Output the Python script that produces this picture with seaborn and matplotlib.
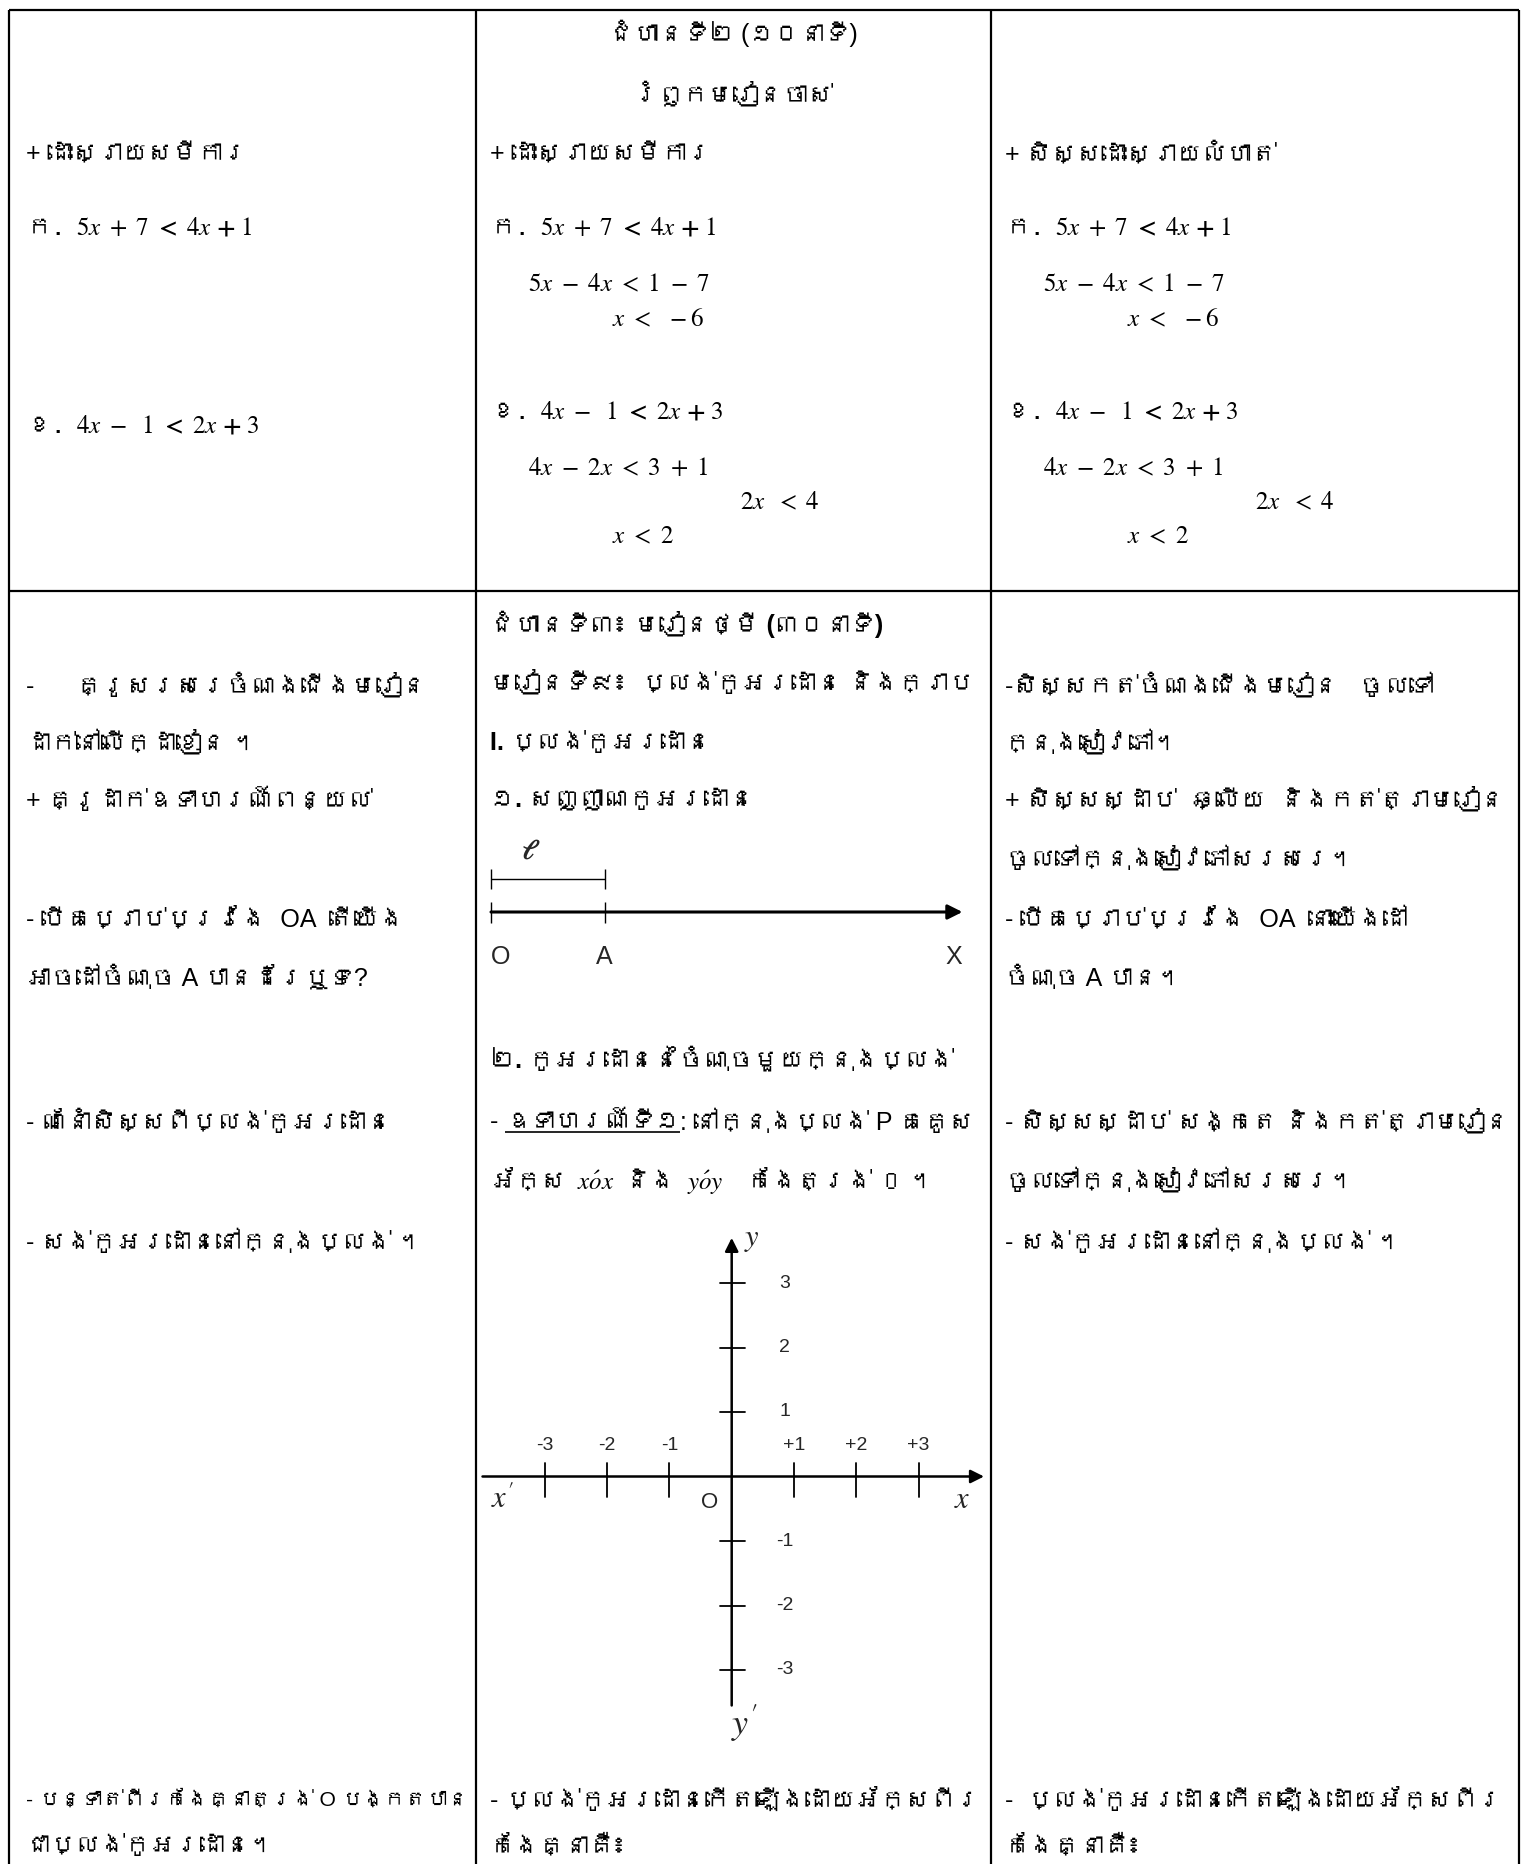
import numpy as np
import pandas as pd
import seaborn as sns
import matplotlib.pyplot as plt
from matplotlib import font_manager
from matplotlib.ft2font import FT2Font

W, H = 1527, 1864

# number line: O, A and the end X (in units of OA)
line_names = ["O", "A", "X"]
line_pos = [0, 1, 4.15]

# coordinate axes
x_ticks = [-3, -2, -1, 1, 2, 3]
x_tick_labels = ["-3", "-2", "-1", "+1", "+2", "+3"]
y_ticks = [3, 2, 1, -1, -2, -3]
y_tick_labels = ["3", "2", "1", "-1", "-2", "-3"]
x_axis_span = [-4.0, 4.05]
y_axis_span = [-3.55, 3.7]

sns.set_theme(style="white")

# look for any installed font that has Khmer glyphs
khmer = []
for f in font_manager.fontManager.ttflist:
    try:
        if FT2Font(f.fname).get_char_index(0x1780) and f.name not in khmer:
            khmer.append(f.name)
    except Exception:
        pass
plt.rcParams["font.family"] = ["Liberation Sans"] + khmer + ["DejaVu Sans"]
plt.rcParams["mathtext.fontset"] = "stix"
# mathtext strings only use the first family, so Khmer has to come first there
MIXED = khmer + ["Liberation Sans", "DejaVu Sans"]

FS = 18
fig = plt.figure(figsize=(W / 100, H / 100), dpi=100)
ax = fig.add_axes([0, 0, 1, 1])
ax.set_xlim(0, W)
ax.set_ylim(H, 0)
ax.axis("off")
r = fig.canvas.get_renderer()
inv = ax.transData.inverted()

# table grid
cols = [9, 476, 991, 1519]
ax.vlines(cols, 10, H, color="black", lw=1.6)
ax.hlines([10, 591], cols[0], cols[-1], color="black", lw=1.6)


def span(t):
    bb = t.get_window_extent(r)
    (xa, ya), (xb, yb) = inv.transform([[bb.x0, bb.y0], [bb.x1, bb.y1]])
    return xa, xb, max(ya, yb)


def put(x, y, s, bold=False, ha="left", maxw=None, size=FS):
    kw = {"family": MIXED} if "$" in s else {}
    t = ax.text(x, y, s, ha=ha, va="center", fontsize=size,
                fontweight="bold" if bold else "normal", color="black", **kw)
    if maxw:
        xa, xb, _ = span(t)
        if xb - xa > maxw:
            t.set_fontsize(size * maxw / (xb - xa))
    return t


def put1(y, s, **kw):
    return put(26, y, s, maxw=442, **kw)


def put2(y, s, **kw):
    return put(490, y, s, maxw=494, **kw)


def put3(y, s, **kw):
    return put(1005, y, s, maxw=506, **kw)


# ---- row 1 ----
put(733, 33, "ជំហានទី២ (១០នាទី)", ha="center")
put(733, 95, "រំឭកមេរៀនចាស់", bold=True, ha="center")

eq_a = r"ក. $5x\ +\ 7\ \mathbf{<}\ 4x\ \mathbf{+}\ 1$"
eq_b = r"ខ. $4x\ -\ \ 1\ \mathbf{<}\ 2x\ \mathbf{+}\ 3$"
put1(154, "+ ដោះស្រាយសមីការ")
put1(226, eq_a)
put1(425, eq_b)

for x0, head in [(490, "+ ដោះស្រាយសមីការ"), (1005, "+ សិស្សដោះស្រាយលំហាត់")]:
    put(x0, 154, head)
    put(x0, 226, eq_a)
    put(x0 + 38, 283, r"$5x\ -\ 4x\ <\ 1\ -\ 7$")
    put(x0 + 122, 318, r"$x\ <\ \ -6$")
    put(x0, 410, eq_b)
    put(x0 + 38, 467, r"$4x\ -\ 2x\ <\ 3\ +\ 1$")
    put(x0 + 250, 501, r"$2x\ \ <\ 4$")
    put(x0 + 122, 536, r"$x\ <\ 2$")

# ---- row 2, column 1 ----
put1(686, "-      គ្រូសរសេរចំណងជើងមេរៀន")
put1(743, "ដាក់នៅលើក្ដាខៀន ។")
put1(800, "+ គ្រូដាក់ឧទាហរណ៍ពន្យល់")
put1(919, "- បើគេប្រាប់ប្រវែង  OA  តើយើង")
put1(978, "អាចដៅចំណុច A បានដែរឬទេ?")
put1(1122, "- ណែនាំសិស្សពីប្លង់កូអរដោនេ")
put1(1242, "- សង់កូអរដោនេនៅក្នុងប្លង់ ។")
put1(1800, "- បន្ទាត់ពីរកែងគ្នាត្រង់ O បង្កតបាន")
put1(1846, "ជាប្លង់កូអរដោនេ។")

# ---- row 2, column 2 ----
put2(624, "ជំហានទី៣៖ មេរៀនថ្មី (៣០នាទី)", bold=True)
put2(683, "មេរៀនទី៩៖  ប្លង់កូអរដោនេ និងក្រាប", bold=True)
put2(743, "I. ប្លង់កូអរដោនេ", bold=True)
put2(800, "១. សញ្ញាណកូអរដោនេ", bold=True)
put2(1060, "២. កូអរដោនេនៃចំណុចមួយក្នុងប្លង់", bold=True)

# example line with the underlined word, shrunk as a whole if too wide
runs = [("- ", False), ("ឧទាហរណ៍ទី១", True), (": នៅក្នុងប្លង់ P គេគូស", False)]
size = FS
for attempt in range(2):
    xc = 490
    parts = []
    for s, under in runs:
        t = ax.text(xc, 1122, s, va="center", fontsize=size, color="black")
        xa, xb, yb = span(t)
        parts.append((t, under, xa, xb, yb))
        xc = xb
    if xc - 490 <= 494 or attempt == 1:
        break
    for p in parts:
        p[0].remove()
    size = size * 494 / (xc - 490)
for t, under, xa, xb, yb in parts:
    if under:
        ax.hlines(yb - 2, xa, xb, color="black", lw=1.2)

put2(1181, r"អ័ក្ស $x\acute{o}x$ និង $y\acute{o}y$  កែងត្រង់ O ។")
put2(1800, "- ប្លង់កូអរដោនេកើតឡើងដោយអ័ក្សពីរ")
put2(1846, "កែងគ្នាគឺ៖")

# ---- row 2, column 3 ----
put3(686, "-សិស្សកត់ចំណងជើងមេរៀន   ចូលទៅ")
put3(743, "ក្នុងសៀវភៅ។")
put3(800, "+ សិស្សស្ដាប់  ឆ្លើយ  និងកត់ត្រាមេរៀន")
put3(859, "ចូលទៅក្នុងសៀវភៅសរសេរ។")
put3(919, "- បើគេប្រាប់ប្រវែង  OA  នោះយើងដៅ")
put3(978, "ចំណុច A បាន។")
put3(1122, "- សិស្សស្ដាប់ សង្កេត និងកត់ត្រាមេរៀន")
put3(1181, "ចូលទៅក្នុងសៀវភៅសរសេរ។")
put3(1242, "- សង់កូអរដោនេនៅក្នុងប្លង់ ។")
put3(1800, "-  ប្លង់កូអរដោនេកើតឡើងដោយអ័ក្សពីរ")
put3(1846, "កែងគ្នាគឺ៖")


def px_axes(x0, y0, x1, y1):
    return fig.add_axes([x0 / W, 1 - y1 / H, (x1 - x0) / W, (y1 - y0) / H])


# ---- number line ----
nl = px_axes(476, 830, 991, 980)
u = 113.6
nl.set_xlim((476 - 491) / u, (991 - 491) / u)
nl.set_ylim(-68, 82)
nl.axis("off")
nl.annotate("", xy=(line_pos[-1], 0), xytext=(line_pos[0], 0),
            arrowprops=dict(arrowstyle="-|>", lw=2.2, color="black",
                            mutation_scale=22, shrinkA=0, shrinkB=0))
nl.vlines(line_pos[:2], -11, 10, color="black", lw=1.0)
nl.hlines(33, line_pos[0], line_pos[1], color="black", lw=1.0)
nl.vlines(line_pos[:2], 23, 43, color="black", lw=1.0)
nl.text(line_pos[0], -45, line_names[0], ha="left", va="center", fontsize=FS)
nl.text(line_pos[1], -45, line_names[1], ha="center", va="center", fontsize=FS)
nl.text(line_pos[2], -45, line_names[2], ha="right", va="center", fontsize=FS)
nl.text((line_pos[0] + line_pos[1]) / 2 - 0.15, 60, r"$\boldsymbol{\ell}$",
        ha="center", va="center", fontsize=20)

# ---- coordinate axes ----
ox, oy, ux, uy = 731.7, 1476.5, 62.3, 64.5
ca = px_axes(476, 1225, 991, 1745)
ca.set_xlim((476 - ox) / ux, (991 - ox) / ux)
ca.set_ylim((oy - 1745) / uy, (oy - 1225) / uy)
ca.axis("off")

arrow = dict(arrowstyle="-|>", lw=1.8, color="black", mutation_scale=20,
             shrinkA=0, shrinkB=0)
ca.annotate("", xy=(x_axis_span[1], 0), xytext=(x_axis_span[0], 0), arrowprops=arrow)
ca.annotate("", xy=(0, y_axis_span[1]), xytext=(0, y_axis_span[0]), arrowprops=arrow)

segs = []
for i, t in enumerate(x_ticks):
    segs += [(t, 0.21, f"x{i}"), (t, -0.32, f"x{i}")]
for i, t in enumerate(y_ticks):
    segs += [(-0.19, t, f"y{i}"), (0.22, t, f"y{i}")]
tick_df = pd.DataFrame(segs, columns=["x", "y", "seg"])
sns.lineplot(data=tick_df, x="x", y="y", units="seg", estimator=None, sort=False,
             color="black", lw=1.3, ax=ca, legend=False)
ca.axis("off")

for t, lab in zip(x_ticks, x_tick_labels):
    ca.text(t, 0.48, lab, ha="center", va="center", fontsize=14)
for t, lab in zip(y_ticks, y_tick_labels):
    ca.text(0.85, t, lab, ha="center", va="center", fontsize=14)

ca.text(0.2, 3.68, r"$y$", ha="left", va="center", fontsize=22)
ca.text(-3.68, -0.37, r"$x^{\prime}$", ha="center", va="center", fontsize=22)
ca.text(-0.36, -0.40, "O", ha="center", va="center", fontsize=16)
ca.text(3.70, -0.37, r"$x$", ha="center", va="center", fontsize=22)
ca.text(0.2, -3.82, r"$y^{\prime}$", ha="center", va="center", fontsize=26)

fig.savefig("out.png", dpi=100, facecolor="white")
